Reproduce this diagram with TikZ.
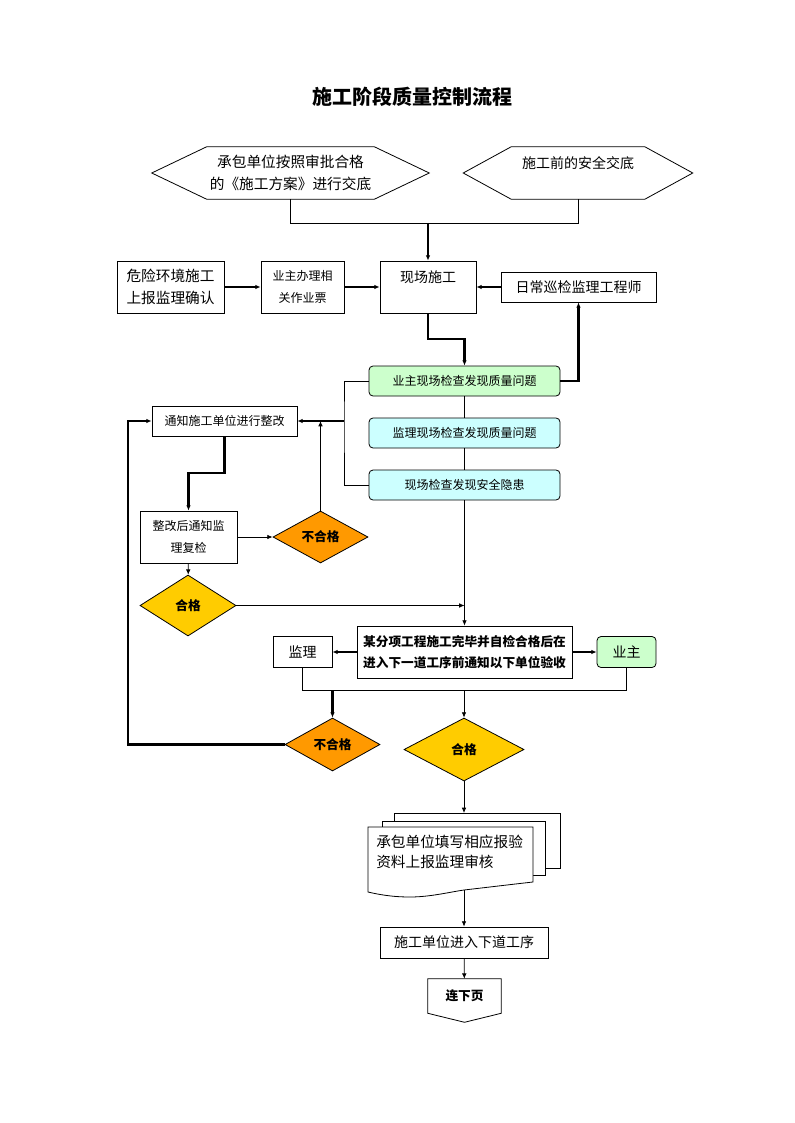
\documentclass[tikz,border=0pt]{standalone}
\usepackage{fontspec}
\setmainfont{Noto Sans CJK SC}
\usetikzlibrary{arrows.meta, shapes.geometric}
\definecolor{okgreen}{HTML}{CCFFCC}
\definecolor{okcyan}{HTML}{CCFFFF}
\definecolor{failorange}{HTML}{FF9900}
\definecolor{passgold}{HTML}{FFCC00}
\tikzset{
  block/.style = {rectangle, draw, line width=0.6pt, inner sep=2pt, align=center, font=\fontsize{10.5pt}{16.5pt}\selectfont},
  small/.style = {font=\fontsize{9pt}{16pt}\selectfont},
  check/.style = {block, small, rounded corners=3pt, minimum width=143.25pt, minimum height=22.5pt},
  decision/.style = {diamond, draw, line width=0.6pt, inner sep=0pt, font=\bfseries\fontsize{9.5pt}{11pt}\selectfont},
  line/.style = {draw, line width=0.6pt},
  arrow/.style = {draw, line width=0.6pt, -{Latex[length=4pt, width=3.5pt]}},
  thickarrow/.style = {arrow, line width=1.6pt},
}

\begin{document}
\begin{tikzpicture}[x=0.75pt, y=-0.75pt]
  \useasboundingbox (0,0) rectangle (794,1123);

  \node (title) [font=\bfseries\fontsize{15pt}{18pt}\selectfont] at (412,97) {施工阶段质量控制流程};

  \node (hexA) [align=center, inner sep=0pt, minimum width=125.25pt, minimum height=39pt, font=\fontsize{11pt}{16.5pt}\selectfont] at (290.5,173) {承包单位按照审批合格\\的《施工方案》进行交底};
  \node (hexB) [inner sep=0pt, minimum width=99.75pt, minimum height=39pt, text depth=16pt, font=\fontsize{10.5pt}{13pt}\selectfont] at (578,173) {施工前的安全交底};
  \draw [line] (hexA.north west) -- (hexA.north east) -- ([xshift=41.25pt]hexA.east) -- (hexA.south east) -- (hexA.south west) -- ([xshift=-41.25pt]hexA.west) -- cycle;
  \draw [line] (hexB.north west) -- (hexB.north east) -- ([xshift=36pt]hexB.east) -- (hexB.south east) -- (hexB.south west) -- ([xshift=-36pt]hexB.west) -- cycle;
  \coordinate (merge) at (428,223);

  \node (danger) [block, minimum width=80.25pt, minimum height=39pt, font=\fontsize{11pt}{16.5pt}\selectfont] at (170.5,287) {危险环境施工\\上报监理确认};
  \node (permit) [block, small, minimum width=62.25pt, minimum height=39pt] at (302.5,287) {业主办理相\\关作业票};
  \node (site) [block, minimum width=72pt, minimum height=39pt, text depth=16pt] at (428,287) {现场施工};
  \node (engineer) [block, minimum width=116.25pt, minimum height=22.5pt] at (578.5,287) {日常巡检监理工程师};

  \node (chkA) [check, fill=okgreen] at (464.5,381) {业主现场检查发现质量问题};
  \node (chkB) [check, fill=okcyan] at (464.5,433) {监理现场检查发现质量问题};
  \node (chkC) [check, fill=okcyan] at (464.5,485) {现场检查发现安全隐患};
  \coordinate (fork) at (344,421);

  \node (notify) [block, small, minimum width=108.75pt, minimum height=22.5pt] at (224.5,421) {通知施工单位进行整改};
  \node (recheck) [block, small, minimum width=72.75pt, minimum height=39pt] at (188.5,537) {整改后通知监\\理复检};
  \node (fail1) [decision, fill=failorange, minimum width=71.25pt, minimum height=39pt, aspect=1.83] at (320.5,537) {不合格};
  \node (pass1) [decision, fill=passgold, minimum width=72pt, minimum height=45.75pt, aspect=1.57] at (188,605.5) {合格};

  \node (accept) [block, minimum width=161.25pt, minimum height=39pt, font=\bfseries\fontsize{9.5pt}{15.75pt}\selectfont] at (464.5,652) {某分项工程施工完毕并自检合格后在\\进入下一道工序前通知以下单位验收};
  \node (sup) [block, minimum width=44.25pt, minimum height=23.25pt] at (302.5,652) {监理};
  \node (own) [block, rounded corners=3pt, fill=okgreen, minimum width=44.25pt, minimum height=23.25pt] at (626.5,652) {业主};
  \coordinate (splitA) at (332.5,690);
  \coordinate (splitB) at (464,690);

  \node (fail2) [decision, fill=failorange, minimum width=71.25pt, minimum height=39.75pt, aspect=1.79] at (332.5,744.5) {不合格};
  \node (pass2) [decision, fill=passgold, minimum width=90pt, minimum height=47.25pt, aspect=1.9] at (464,749.5) {合格};

  \draw [line, fill=white] (394,813) rectangle (560,868);
  \draw [line, fill=white] (382,821) rectangle (545,875);
  \draw [line, fill=white] (368,827) -- (533,827) -- (533,882) .. controls (515,884) and (490,887) .. (464,890) .. controls (450,892) and (430,897) .. (410,897) .. controls (398,897) and (385,896) .. (368,892) -- cycle;
  \node (docs) [anchor=west, align=left, inner sep=0pt, font=\fontsize{11pt}{15pt}\selectfont] at (376,852) {承包单位填写相应报验\\资料上报监理审核};
  \coordinate (docstop) at (464,813);
  \coordinate (docsbot) at (464,890);

  \node (nextstep) [block, minimum width=126pt, minimum height=23.25pt] at (464,942.5) {施工单位进入下道工序};
  \node (contd) [minimum width=54.75pt, minimum height=25.5pt, font=\bfseries\fontsize{9.5pt}{11pt}\selectfont] at (464.5,996) {连下页};
  \draw [line] (contd.north west) -- (contd.north east) -- (contd.south east) -- ([yshift=-6.75pt]contd.south) -- (contd.south west) -- cycle;

  \draw [line] (hexA.south) -- ++(0,24) -| (hexB.south);
  \draw [thickarrow] (merge) -- (site.north);
  \draw [thickarrow] (danger) -- (permit);
  \draw [thickarrow] (permit) -- (site);
  \draw [thickarrow] (engineer) -- (site);
  \draw [thickarrow] (site.south) -- ++(0,26) -| (chkA.north);
  \draw [thickarrow] (chkA.east) -| (engineer.south);
  \draw [line] (chkA) -- (chkB);
  \draw [line] (chkB) -- (chkC);
  \draw [line] (chkA.west) -| (fork) |- (chkC.west);
  \draw [thickarrow] (fork) -- (notify.east);
  \draw [thickarrow] (notify.south) -- ++(0,37) -| (recheck.north);
  \draw [arrow] (recheck) -- (fail1);
  \draw [arrow] (fail1.north) -- (fail1.north |- notify.east);
  \draw [arrow] (recheck) -- (pass1);
  \draw [arrow] (pass1.east) -- (pass1.east -| chkC.south);
  \draw [arrow] (chkC.south) -- (accept.north);
  \draw [thickarrow] (accept) -- (sup);
  \draw [thickarrow] (accept) -- (own);
  \draw [line] (sup.south) -- ++(0,22) -| (own.south);
  \draw [thickarrow] (splitA) -- (fail2.north);
  \draw [arrow] (splitB) -- (pass2.north);
  \draw [thickarrow] (fail2.west) -- ++(-157,0) |- (notify.west);
  \draw [arrow] (pass2.south) -- (docstop);
  \draw [arrow] (docsbot) -- (nextstep.north);
  \draw [arrow] (nextstep) -- (contd);

\end{tikzpicture}
\end{document}
